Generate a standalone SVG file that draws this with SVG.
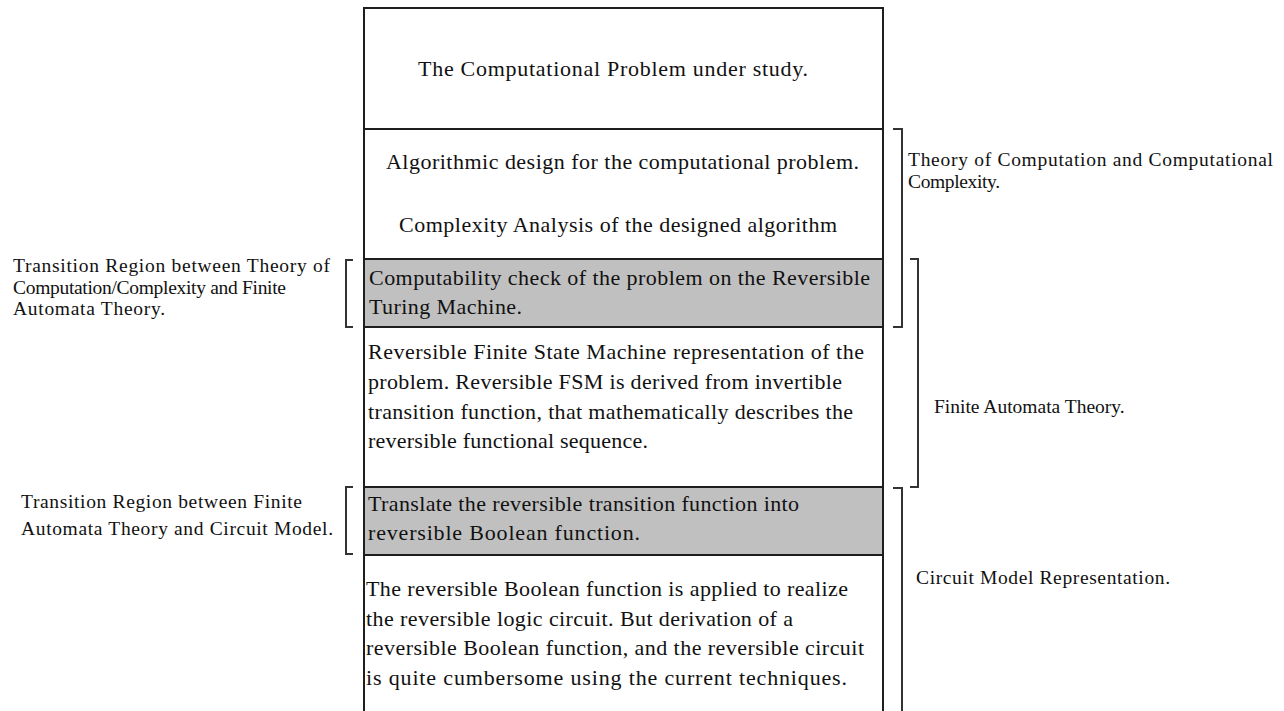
<svg xmlns="http://www.w3.org/2000/svg" width="1284" height="711" viewBox="0 0 1284 711">
  <style>
    .row { fill: #ffffff; stroke: #1e1e1e; stroke-width: 2; }
    .shade { fill: #c0c0c0; stroke: #1e1e1e; stroke-width: 2; }
    .t { font-family: "Liberation Serif", "Times New Roman", serif; font-size: 22px; fill: #111; }
    .lbl { font-family: "Liberation Serif", "Times New Roman", serif; font-size: 19.5px; fill: #111; }
    .br { fill: none; stroke: #333; stroke-width: 2; }
  </style>

  <rect width="1284" height="711" fill="#ffffff"/>

  <!-- stacked process rows -->
  <g id="problem">
    <rect class="row" x="364" y="8" width="519" height="121"/>
    <text class="t" x="418" y="76" textLength="390" lengthAdjust="spacing">The Computational Problem under study.</text>
  </g>

  <g id="algorithm-design">
    <rect class="row" x="364" y="129" width="519" height="130"/>
    <text class="t" x="386" y="169" textLength="473" lengthAdjust="spacing">Algorithmic design for the computational problem.</text>
    <text class="t" x="399" y="232" textLength="438" lengthAdjust="spacing">Complexity Analysis of the designed algorithm</text>
  </g>

  <g id="computability-check">
    <rect class="shade" x="364" y="259" width="519" height="68"/>
    <text class="t" x="369" y="285" textLength="501" lengthAdjust="spacing">Computability check of the problem on the Reversible</text>
    <text class="t" x="369" y="314" textLength="153" lengthAdjust="spacing">Turing Machine.</text>
  </g>

  <g id="reversible-fsm">
    <rect class="row" x="364" y="327" width="519" height="160"/>
    <text class="t" x="368" y="359" textLength="496" lengthAdjust="spacing">Reversible Finite State Machine representation of the</text>
    <text class="t" x="368" y="389" textLength="474" lengthAdjust="spacing">problem. Reversible FSM is derived from invertible</text>
    <text class="t" x="368" y="419" textLength="485" lengthAdjust="spacing">transition function, that mathematically describes the</text>
    <text class="t" x="368" y="448" textLength="280" lengthAdjust="spacing">reversible functional sequence.</text>
  </g>

  <g id="boolean-translation">
    <rect class="shade" x="364" y="487" width="519" height="68"/>
    <text class="t" x="368" y="511" textLength="431" lengthAdjust="spacing">Translate the reversible transition function into</text>
    <text class="t" x="368" y="540" textLength="272" lengthAdjust="spacing">reversible Boolean function.</text>
  </g>

  <g id="circuit-realization">
    <path class="row" d="M364,716 V555 H883 V716"/>
    <text class="t" x="366" y="596" textLength="482" lengthAdjust="spacing">The reversible Boolean function is applied to realize</text>
    <text class="t" x="366" y="626" textLength="427" lengthAdjust="spacing">the reversible logic circuit. But derivation of a</text>
    <text class="t" x="366" y="655" textLength="498" lengthAdjust="spacing">reversible Boolean function, and the reversible circuit</text>
    <text class="t" x="366" y="685" textLength="481" lengthAdjust="spacing">is quite cumbersome using the current techniques.</text>
  </g>

  <!-- bracket connectors grouping rows into theory areas -->
  <g id="brackets">
    <path class="br" d="M353,260 H346 V327 H353"/>
    <path class="br" d="M353,487 H346 V554 H353"/>
    <path class="br" d="M893,129 H902 V327 H893"/>
    <path class="br" d="M910,259 H918 V487 H910"/>
    <path class="br" d="M893,488 H902 V716"/>
  </g>

  <!-- area labels -->
  <g id="label-transition-toc-fa">
    <text class="lbl" x="13" y="272" textLength="317" lengthAdjust="spacing">Transition Region between Theory of</text>
    <text class="lbl" x="13" y="293.5" textLength="273" lengthAdjust="spacing">Computation/Complexity and Finite</text>
    <text class="lbl" x="13" y="315" textLength="152" lengthAdjust="spacing">Automata Theory.</text>
  </g>

  <g id="label-transition-fa-circuit">
    <text class="lbl" x="21" y="508" textLength="281" lengthAdjust="spacing">Transition Region between Finite</text>
    <text class="lbl" x="21" y="535" textLength="312" lengthAdjust="spacing">Automata Theory and Circuit Model.</text>
  </g>

  <g id="label-toc">
    <text class="lbl" x="908" y="166" textLength="365" lengthAdjust="spacing">Theory of Computation and Computational</text>
    <text class="lbl" x="908" y="188" textLength="92" lengthAdjust="spacing">Complexity.</text>
  </g>

  <g id="label-fa">
    <text class="lbl" x="934" y="413">Finite Automata Theory.</text>
  </g>

  <g id="label-circuit">
    <text class="lbl" x="916" y="584" textLength="254" lengthAdjust="spacing">Circuit Model Representation.</text>
  </g>
</svg>
